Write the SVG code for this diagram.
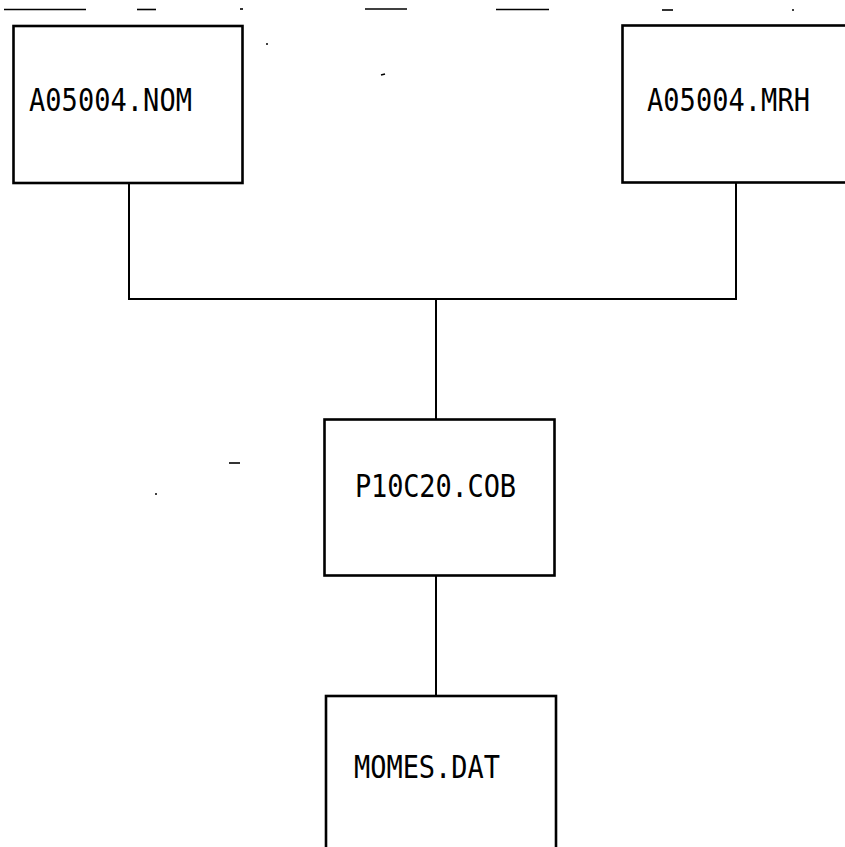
<svg xmlns="http://www.w3.org/2000/svg" width="845" height="847" viewBox="0 0 845 847">
<style>
.box{fill:#fff;stroke:#000;stroke-width:2.6}
.conn{fill:none;stroke:#000;stroke-width:2}
.lbl{font-family:"DejaVu Sans Mono","Liberation Mono",monospace;font-size:27px;fill:#000}
.mark{stroke:#000;stroke-width:1.6}
</style>
<rect width="845" height="847" fill="#fff"/>
<g id="scan-marks">
<line class="mark" x1="4" y1="9.5" x2="86" y2="9.5"/>
<line class="mark" x1="137" y1="9.5" x2="156" y2="9.5"/>
<line class="mark" x1="240" y1="9" x2="243" y2="9"/>
<line class="mark" x1="365" y1="9" x2="407" y2="9"/>
<line class="mark" x1="496" y1="9.5" x2="549" y2="9.5"/>
<line class="mark" x1="662" y1="10" x2="673" y2="10"/>
<line class="mark" x1="792" y1="10" x2="794" y2="10"/>
<line class="mark" x1="266" y1="44" x2="268" y2="44"/>
<line class="mark" x1="381" y1="75" x2="385" y2="74"/>
<line class="mark" x1="229" y1="463" x2="240" y2="463"/>
<line class="mark" x1="155" y1="494" x2="157" y2="494"/>
<line class="mark" x1="473" y1="528" x2="476" y2="528"/>
</g>
<g id="connectors">
<polyline class="conn" points="129,183 129,299 736,299 736,182"/>
<line class="conn" x1="436" y1="299" x2="436" y2="419"/>
<line class="conn" x1="436" y1="576" x2="436" y2="696"/>
</g>
<g id="node-a05004-nom">
<rect class="box" x="13.5" y="26" width="229" height="157"/>
<text class="lbl" transform="translate(29,111) scale(1,1.17)" textLength="163" lengthAdjust="spacing">A05004.NOM</text>
</g>
<g id="node-a05004-mrh">
<rect class="box" x="622.5" y="25.5" width="240" height="157"/>
<text class="lbl" transform="translate(647,111) scale(1,1.17)" textLength="163" lengthAdjust="spacing">A05004.MRH</text>
</g>
<g id="node-p10c20-cob">
<rect class="box" x="324.5" y="419.5" width="230" height="156"/>
<text class="lbl" transform="translate(355,497) scale(1,1.17)" textLength="161" lengthAdjust="spacing">P10C20.COB</text>
</g>
<g id="node-momes-dat">
<rect class="box" x="326" y="696" width="230" height="170"/>
<text class="lbl" transform="translate(354,778) scale(1,1.17)" textLength="146" lengthAdjust="spacing">MOMES.DAT</text>
</g>
</svg>
